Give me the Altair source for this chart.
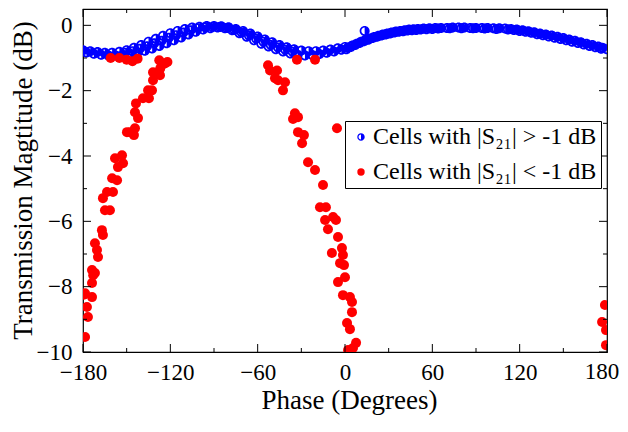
import altair as alt
import pandas as pd

# ---------------- data ----------------
LABEL_HI = "Cells with |S₂₁| > -1 dB"
LABEL_LO = "Cells with |S₂₁| < -1 dB"

# blue cells, left band (three interleaved streaks)
blue_a_phase = [-180, -175, -170, -165, -160, -155, -150, -145, -140, -135, -130, -125, -120, -115,
                -110, -105, -100, -95, -90, -85, -80, -75, -70, -65, -60, -55, -50, -45, -40, -35,
                -30, -25, -20, -15, -10, -5, 0]
blue_a_mag = [-0.76, -0.79, -0.82, -0.84, -0.84, -0.81, -0.76, -0.69, -0.60, -0.50, -0.41, -0.32, -0.24, -0.17,
              -0.11, -0.07, -0.04, -0.02, -0.02, -0.03, -0.06, -0.11, -0.17, -0.25, -0.34, -0.43, -0.52, -0.60,
              -0.67, -0.73, -0.77, -0.79, -0.79, -0.77, -0.74, -0.70, -0.66]

blue_b_phase = [-177.5, -172.5, -167.5, -162.5, -157.5, -152.5, -147.5, -142.5, -137.5, -132.5, -127.5,
                -122.5, -117.5, -112.5, -107.5, -102.5, -97.5, -92.5, -87.5, -82.5, -77.5, -72.5, -67.5,
                -62.5, -57.5, -52.5, -47.5, -42.5, -37.5, -32.5, -27.5, -22.5, -17.5, -12.5, -7.5, -2.5]
blue_b_mag = [-0.83, -0.87, -0.90, -0.92, -0.92, -0.90, -0.87, -0.83, -0.78, -0.71, -0.63, -0.55, -0.46,
              -0.37, -0.28, -0.20, -0.13, -0.09, -0.07, -0.09, -0.15, -0.24, -0.35, -0.46, -0.56, -0.65,
              -0.73, -0.80, -0.86, -0.90, -0.92, -0.91, -0.88, -0.84, -0.80, -0.75]

blue_c_phase = [-151, -146, -141, -136, -131, -126, -121, -116, -111, -106, -101, -96, -91, -86, -81,
                -76, -71, -66, -61, -56, -51, -46, -41, -36]
blue_c_mag = [-0.84, -0.79, -0.72, -0.64, -0.55, -0.47, -0.38, -0.30, -0.22, -0.15, -0.09, -0.06, -0.05,
              -0.05, -0.08, -0.14, -0.22, -0.31, -0.41, -0.50, -0.60, -0.68, -0.75, -0.81]

# blue cells, right band
blue_d_phase = [2, 5, 8, 11, 14, 17, 20, 23, 26, 29, 32, 35, 38, 41, 44, 47, 50, 54, 58, 62, 66, 70, 74,
                78, 82, 86, 90, 94, 98, 102, 106, 110, 114, 118, 122, 126, 130, 134, 138, 142, 146, 150,
                154, 158, 162, 166, 170, 174, 177, 180]
blue_d_mag = [-0.68, -0.62, -0.56, -0.50, -0.45, -0.40, -0.36, -0.32, -0.28, -0.25, -0.22, -0.19, -0.17,
              -0.15, -0.13, -0.12, -0.11, -0.10, -0.09, -0.08, -0.08, -0.08, -0.07, -0.07, -0.07, -0.08,
              -0.08, -0.08, -0.08, -0.09, -0.09, -0.10, -0.11, -0.13, -0.15, -0.18, -0.21, -0.25, -0.28,
              -0.31, -0.35, -0.39, -0.43, -0.47, -0.52, -0.56, -0.60, -0.65, -0.69, -0.73]

blue_e_phase = [1, 4, 7, 10, 13.5, 13, 16, 19, 22, 25, 28, 31, 34, 37, 40, 43, 46, 49, 52, 56, 60,
                64, 72, 80, 88, 96, 104, 112, 116, 120, 124, 128, 132, 136, 140, 144, 148, 152, 156,
                160, 164, 168, 172, 176]
blue_e_mag = [-0.73, -0.66, -0.60, -0.54, -0.17, -0.49, -0.44, -0.39, -0.35, -0.31, -0.28, -0.25, -0.22,
              -0.20, -0.18, -0.16, -0.15, -0.14, -0.13, -0.12, -0.11, -0.10, -0.09, -0.09, -0.09, -0.10,
              -0.11, -0.13, -0.14, -0.17, -0.20, -0.23, -0.27, -0.30, -0.34, -0.38, -0.42, -0.46, -0.50,
              -0.54, -0.59, -0.63, -0.67, -0.72]

# red cells
red_phase = [-161, -155, -150, -146, -142.5, -127.6, -123.7, -122, -126, -127, -131.9, -127.1, -131.9,
             -135.3, -132.6, -138.8, -134.7, -143.6, -144.3, -142.2, -149.8, -144.3, -145, -147.7,
             -153.2, -158, -152.5, -156, -160, -156.6, -163.5, -159.4, -166.3, -164.9, -161.5, -167,
             -166.3, -171.8, -170.4, -169.7, -173.8, -171.8, -173.8, -173.8, -178.6, -177.3, -176.6,
             -178.6, -179.5, -173,
             178.6, 176.6, 179.3, 179.3,
             -33, -20.6, -52.9, -51.5, -46.7, -48.1, -46, -41.2, -42.6, -34.4, -35.7, -32.3, -32.3,
             -28.2, -29.5, -25.4, -20.6, -15.1, -17.2, -13.1, -13.7, -8.2, -6.2, -11.7, -4.8, -2.1,
             -9, -1.4, -3.4, -0.7, 0, -4.8, -1.4, 3.4, 4.8, 4.8, 1.4, 3.4, 7.6, 5.5, 2.1, -5.5]
red_mag = [-1.0, -1.0, -1.05, -1.1, -1.02, -1.07, -1.17, -1.12, -1.22, -1.33, -1.44, -1.53, -1.68,
           -1.99, -1.99, -2.23, -2.23, -2.39, -2.66, -2.84, -3.27, -3.15, -3.36, -3.27,
           -3.98, -4.07, -4.22, -4.34, -4.68, -4.74, -5.1, -5.1, -5.29, -5.66, -5.66, -6.27,
           -6.42, -6.67, -6.88, -7.09, -7.49, -7.58, -7.89, -8.32, -8.2, -8.62, -8.93,
           -9.54, -8.25, -7.65,
           -8.56, -9.08, -9.33, -9.79,
           -1.05, -1.05, -1.22, -1.38, -1.38, -1.62, -1.68, -1.74, -1.99, -2.69, -2.87, -2.81, -3.27,
           -3.36, -3.61, -4.19, -4.43, -4.89, -5.57, -5.57, -5.96, -5.87, -5.96, -6.24, -6.48, -6.82,
           -6.97, -7.03, -7.28, -7.34, -7.71, -7.86, -8.26, -8.32, -8.47, -8.78, -9.11, -9.3, -9.72,
           -9.88, -9.94, -3.15]

x_major = [-180, -120, -60, 0, 60, 120, 180]
x_minor = [-150, -90, -30, 30, 90, 150]
y_major = [-10, -8, -6, -4, -2, 0]
y_minor = [-9, -7, -5, -3, -1]
x_edge_label = [180]   # last x tick label, drawn as a text mark so it can be nudged inside the page

# ---------------- tables ----------------
blue_phase = blue_a_phase + blue_b_phase + blue_c_phase + blue_d_phase + blue_e_phase
blue_mag = blue_a_mag + blue_b_mag + blue_c_mag + blue_d_mag + blue_e_mag
df = pd.DataFrame({
    "phase": blue_phase + red_phase,
    "mag": blue_mag + red_mag,
    "group": [LABEL_HI] * len(blue_phase) + [LABEL_LO] * len(red_phase),
})

W, H = 524, 343
FONT = "Liberation Serif"
HALF = "M0,-1A1,1 0 1,1 0,1A1,1 0 1,1 0,-1Z M0,-0.66A0.66,0.66 0 0,0 0,0.66Z"

xscale = alt.Scale(domain=[-180, 180], nice=False, zero=False)
yscale = alt.Scale(domain=[-10, 0.5], nice=False, zero=False)

xaxis = alt.Axis(values=x_major, tickSize=0, domain=False, grid=False, labelFont=FONT,
                 labelFontSize=23, labelColor="black", labelPadding=9, labelFlush=False,
                 labelOverlap=False,
                 labelExpr="datum.value == 180 ? '' : datum.label",
                 title="Phase (Degrees)", titleFont=FONT, titleFontSize=27,
                 titleFontWeight="normal", titleColor="black", titleBaseline="alphabetic",
                 titleY=56, titleX=266)
yaxis = alt.Axis(values=y_major, tickSize=0, domain=False, grid=False, labelFont=FONT,
                 labelFontSize=23, labelColor="black", labelPadding=11, labelFlush=False,
                 labelOverlap=False,
                 title="Transmission Magtitude (dB)", titleFont=FONT, titleFontSize=27,
                 titleFontWeight="normal", titleColor="black", titleBaseline="alphabetic",
                 titleX=-52, titleY=171)

legend = alt.Legend(title=None, orient="none", legendX=262, legendY=112, strokeColor="black",
                    fillColor="white", padding=4, labelFont=FONT, labelFontSize=24,
                    labelColor="black", labelLimit=400, symbolSize=55, rowPadding=11,
                    labelOffset=0)

points = alt.Chart(df).mark_point(filled=True, strokeWidth=0, opacity=1, size=100, clip=True).encode(
    x=alt.X("phase:Q", scale=xscale, axis=xaxis, title="Phase (Degrees)"),
    y=alt.Y("mag:Q", scale=yscale, axis=yaxis, title="Transmission Magtitude (dB)"),
    color=alt.Color("group:N", scale=alt.Scale(domain=[LABEL_HI, LABEL_LO], range=["#0000ff", "#ff0000"]),
                    legend=legend),
    shape=alt.Shape("group:N", scale=alt.Scale(domain=[LABEL_HI, LABEL_LO], range=[HALF, "circle"]),
                    legend=legend),
)

xt_major = pd.DataFrame({"phase": x_major})
xt_minor = pd.DataFrame({"phase": x_minor})
yt_major = pd.DataFrame({"mag": y_major})
yt_minor = pd.DataFrame({"mag": y_minor})


def xticks(d, length):
    enc_x = alt.X("phase:Q", scale=xscale, axis=xaxis, title="Phase (Degrees)")
    bottom = alt.Chart(d).mark_rule(color="black", strokeWidth=1).encode(
        x=enc_x, y=alt.value(H), y2=alt.value(H - length))
    top = alt.Chart(d).mark_rule(color="black", strokeWidth=1).encode(
        x=enc_x, y=alt.value(0), y2=alt.value(length))
    return [bottom, top]


def yticks(d, length):
    enc_y = alt.Y("mag:Q", scale=yscale, axis=yaxis, title="Transmission Magtitude (dB)")
    left = alt.Chart(d).mark_rule(color="black", strokeWidth=1).encode(
        y=enc_y, x=alt.value(0), x2=alt.value(length))
    right = alt.Chart(d).mark_rule(color="black", strokeWidth=1).encode(
        y=enc_y, x=alt.value(W), x2=alt.value(W - length))
    return [left, right]


ticks = xticks(xt_major, 8) + xticks(xt_minor, 4) + yticks(yt_major, 8) + yticks(yt_minor, 4)

edge_label = alt.Chart(pd.DataFrame({"phase": x_edge_label})).mark_text(
    font=FONT, fontSize=23, color="black", baseline="top", align="center", dx=-5, clip=False
).encode(
    x=alt.X("phase:Q", scale=xscale, axis=xaxis, title="Phase (Degrees)"),
    y=alt.value(H + 9),
    text=alt.Text("phase:Q", format="d"),
)

chart = alt.layer(points, *ticks, edge_label).properties(
    width=W, height=H,
    autosize=alt.AutoSizeParams(type="none"),
    padding={"left": 75, "top": 1, "right": 13, "bottom": 72},
    background="white",
).configure_view(stroke="black", strokeWidth=1.2)

chart.save("out.html", embed_options={"renderer": "svg", "actions": False})
